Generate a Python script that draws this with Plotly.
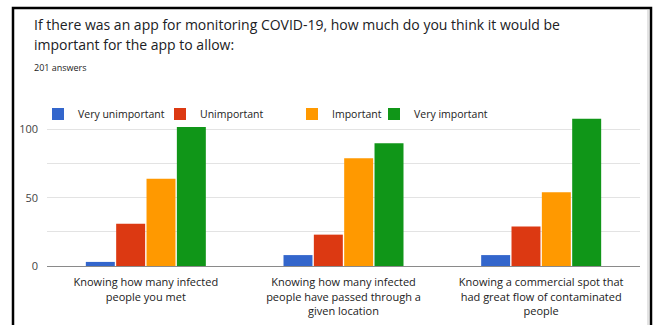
import plotly.graph_objects as go

# Survey responses (201 answers)
categories = [
    "Knowing how many infected<br>people you met",
    "Knowing how many infected<br>people have passed through a<br>given location",
    "Knowing a commercial spot that<br>had great flow of contaminated<br>people",
]
series_names = ["Very unimportant", "Unimportant", "Important", "Very important"]
very_unimportant = [3, 8, 8]
unimportant = [31, 23, 29]
important = [64, 79, 54]
very_important = [102, 90, 108]
series_values = [very_unimportant, unimportant, important, very_important]
colors = ["#3366cc", "#dc3912", "#ff9900", "#109618"]

title_lines = [
    "If there was an app for monitoring COVID-19, how much do you think it would be",
    "important for the app to allow:",
]
subtitle_text = "201 answers"

W, H = 654, 325
M_L, M_R, M_T, M_B = 47, 14, 116, 59
PW, PH = W - M_L - M_R, H - M_T - M_B


def px_x(x):
    return (x - M_L) / PW


def px_y(y):
    return (H - M_B - y) / PH


FONT = "Open Sans"

fig = go.Figure()
legend_ids = ["legend", "legend2", "legend3", "legend4"]
for name, vals, col, lg in zip(series_names, series_values, colors, legend_ids):
    fig.add_trace(go.Bar(
        x=categories, y=vals, name=name,
        marker=dict(color=col, line=dict(width=0)),
        legend=lg,
    ))

legend_left = [38, 160, 292, 374]
legend_common = dict(
    orientation="h", yanchor="middle", xanchor="left",
    font=dict(family=FONT, size=10.5, color="#222222"),
    bgcolor="rgba(0,0,0,0)", borderwidth=0, itemwidth=30,
    tracegroupgap=0,
)
layout_legends = {}
for lg, lx in zip(legend_ids, legend_left):
    layout_legends[lg] = dict(legend_common, x=px_x(lx), y=px_y(114))

annotations = []
for line, ly in zip(title_lines, [24.5, 44.5]):
    annotations.append(dict(
        text=line, xref="paper", yref="paper",
        x=px_x(31.5), y=px_y(ly), xanchor="left", yanchor="middle",
        showarrow=False, font=dict(family=FONT, size=14, color="#202124"),
    ))
annotations.append(dict(
    text=subtitle_text, xref="paper", yref="paper",
    x=px_x(32), y=px_y(67.5), xanchor="left", yanchor="middle",
    showarrow=False, font=dict(family=FONT, size=9, color="#222222"),
))

fig.update_layout(
    width=W, height=H,
    margin=dict(l=M_L, r=M_R, t=M_T, b=M_B, pad=0),
    paper_bgcolor="white", plot_bgcolor="white",
    barmode="group", bargap=0.386, bargroupgap=0.045,
    font=dict(family=FONT, color="#222222"),
    showlegend=True,
    xaxis=dict(
        showgrid=False, showline=True, linecolor="#8a8a8a", linewidth=1,
        ticks="", tickfont=dict(family=FONT, size=11, color="#222222"),
        ticklabelstandoff=6,
        zeroline=False, fixedrange=True, automargin=False,
    ),
    yaxis=dict(
        range=[0, 110], dtick=50, tick0=0,
        showgrid=True, gridcolor="#e3e3e3", gridwidth=1,
        minor=dict(dtick=25, showgrid=True, gridcolor="#e3e3e3", gridwidth=1),
        zeroline=False, showline=False, ticks="",
        tickfont=dict(family=FONT, size=11, color="#444444"),
        ticklabelstandoff=8, automargin=False,
    ),
    annotations=annotations,
    shapes=[
        dict(type="path", xref="paper", yref="paper",
             path=(f"M{px_x(13)},{px_y(330)} L{px_x(13)},{px_y(8)} "
                   f"L{px_x(651)},{px_y(8)} L{px_x(651)},{px_y(330)}"),
             line=dict(color="black", width=2.5)),
        dict(type="line", xref="paper", yref="paper",
             x0=px_x(648), x1=px_x(648), y0=px_y(330), y1=px_y(10),
             line=dict(color="#c8c8c8", width=1)),
    ],
    **layout_legends,
)

fig.write_html("out.html")
